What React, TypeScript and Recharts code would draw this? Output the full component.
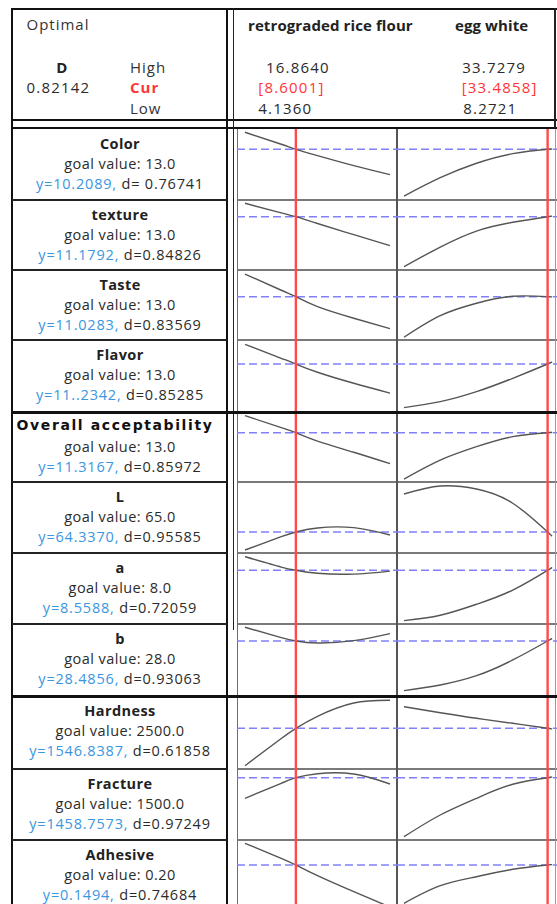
import React from "react";
import { LineChart, Line, XAxis, YAxis, ReferenceLine } from "recharts";

// factor settings
const riceLow = 4.136;
const riceHigh = 16.864;
const riceCur = 8.6001;
const eggLow = 8.2721;
const eggHigh = 33.7279;
const eggCur = 33.4858;
const riceX = [4.136, 7.318, 10.5, 13.682, 16.864];
const eggX = [8.2721, 14.636, 21.0, 27.364, 33.7279];

// responses
const responses = ["Color", "texture", "Taste", "Flavor", "Overall acceptability", "L", "a", "b", "Hardness", "Fracture", "Adhesive"];
const goals = ["13.0", "13.0", "13.0", "13.0", "13.0", "65.0", "8.0", "28.0", "2500.0", "1500.0", "0.20"];
const yLabels = ["y=10.2089", "y=11.1792", "y=11.0283", "y=11..2342", "y=11.3167", "y=64.3370", "y=8.5588", "y=28.4856", "y=1546.8387", "y=1458.7573", "y=0.1494"];
const dLabels = [" d= 0.76741", " d=0.84826", " d=0.83569", " d=0.85285", " d=0.85972", " d=0.95585", " d=0.72059", " d=0.93063", " d=0.61858", " d=0.97249", " d=0.74684"];
const yCur = [10.2089, 11.1792, 11.0283, 11.2342, 11.3167, 64.337, 8.5588, 28.4856, 1546.8387, 1458.7573, 0.1494];

// predicted response along each factor
const riceY = [
  [11.06, 10.46, 9.89, 9.39, 8.94],
  [11.85, 11.37, 10.84, 10.28, 9.73],
  [12.16, 11.35, 10.53, 9.95, 9.43],
  [12.22, 11.52, 10.82, 10.27, 9.78],
  [12.17, 11.57, 10.9, 10.34, 9.77],
  [62.54, 63.87, 64.74, 64.77, 64.04],
  [9.24, 8.72, 8.41, 8.37, 8.52],
  [29.86, 28.82, 28.29, 28.52, 29.22],
  [798.8, 1342.8, 1786.8, 2052.8, 2106.8],
  [1252.8, 1402.8, 1498.8, 1495.8, 1395.8],
  [0.1928, 0.1628, 0.128, 0.096, 0.0654],
];
const eggY = [
  [7.87, 8.79, 9.51, 9.99, 10.21],
  [8.68, 9.66, 10.46, 10.9, 11.185],
  [9.0, 10.08, 10.7, 11.05, 11.03],
  [9.05, 9.35, 9.85, 10.52, 11.27],
  [9.0, 9.95, 10.62, 11.12, 11.32],
  [68.14, 68.94, 68.64, 67.21, 64.21],
  [6.04, 6.31, 6.86, 7.57, 8.6],
  [23.52, 24.09, 25.02, 26.59, 28.57],
  [1978.8, 1858.8, 1746.8, 1646.8, 1542.7],
  [868.8, 1085.8, 1252.8, 1392.8, 1460.0],
  [0.0728, 0.108, 0.126, 0.1408, 0.1497],
];
// y axis range of each row
const yRanges = [
  [7.674, 11.274],
  [8.514, 12.014],
  [8.863, 12.363],
  [8.834, 12.434],
  [8.852, 12.352],
  [62.237, 69.337],
  [5.874, 9.424],
  [22.986, 30.186],
  [732.84, 2192.84],
  [835.76, 1545.76],
  [0.0574, 0.1994],
];

const rowTops = [128, 200, 270, 340, 412, 482, 553, 624, 696, 769, 840, 911];
const FONT = "'Open Sans', sans-serif";
const TXT = "#2b2b2b";
const BLUE = "#3b96e0";
const RED = "#ff3535";

const colW = 160;
const dataW = 145;
const riceDomain = [
  riceLow - (8 * (riceHigh - riceLow)) / dataW,
  riceHigh + (7 * (riceHigh - riceLow)) / dataW,
];
const eggDomain = [
  eggLow - (7 * (eggHigh - eggLow)) / dataW,
  eggHigh + (8 * (eggHigh - eggLow)) / dataW,
];

function buildPoints(xs: number[], ys: number[], cur: number, yc: number) {
  const pts = xs.map((x, i) => ({ x, y: ys[i] }));
  pts.push({ x: cur, y: yc });
  return pts.sort((a, b) => a.x - b.x);
}

function Cell({ left, top, height, data, xDomain, yDomain, cur, yc }: any) {
  return (
    <div style={{ position: "absolute", left, top }}>
      <LineChart width={colW} height={height} data={data} margin={{ top: 0, right: 0, bottom: 0, left: 0 }}>
        <XAxis dataKey="x" type="number" domain={xDomain} hide allowDataOverflow />
        <YAxis type="number" domain={yDomain} hide allowDataOverflow />
        <ReferenceLine y={yc} stroke="#8080fb" strokeWidth={1.6} strokeDasharray="8 4" />
        <Line
          type="natural"
          dataKey="y"
          stroke="#555"
          strokeWidth={1.4}
          dot={false}
          isAnimationActive={false}
        />
        <ReferenceLine x={cur} stroke="#ff4a4a" strokeWidth={2.4} />
      </LineChart>
    </div>
  );
}

function Txt({ x, y, children, style, center }: any) {
  return (
    <div
      style={{
        position: "absolute",
        left: x,
        top: y - 9,
        lineHeight: "18px",
        height: 18,
        whiteSpace: "pre",
        fontFamily: FONT,
        fontSize: 14.5,
        color: TXT,
        transform: center ? "translateX(-50%)" : undefined,
        ...style,
      }}
    >
      {children}
    </div>
  );
}

function Box({ x, y, w, h, c }: any) {
  return <div style={{ position: "absolute", left: x, top: y, width: w, height: h, background: c }} />;
}

const head = { fontSize: 15, letterSpacing: 1, color: "#333" };
const headNum = { fontSize: 15, letterSpacing: 1.2 };

export default function App() {
  const cells: React.ReactNode[] = [];
  const labels: React.ReactNode[] = [];
  responses.forEach((name, i) => {
    const top = rowTops[i];
    const h = rowTops[i + 1] - top;
    cells.push(
      <Cell
        key={"r" + i}
        left={237}
        top={top}
        height={h}
        data={buildPoints(riceX, riceY[i], riceCur, yCur[i])}
        xDomain={riceDomain}
        yDomain={yRanges[i]}
        cur={riceCur}
        yc={yCur[i]}
      />,
      <Cell
        key={"e" + i}
        left={397}
        top={top}
        height={h}
        data={buildPoints(eggX, eggY[i], eggCur, yCur[i])}
        xDomain={eggDomain}
        yDomain={yRanges[i]}
        cur={eggCur}
        yc={yCur[i]}
      />
    );
    const off = i === 0 ? 16 : 14.5;
    const overall = i === 4;
    labels.push(
      <Txt
        key={"t" + i}
        x={overall ? 115 : 120}
        y={top + off - (overall ? 2 : 0)}
        center
        style={
          overall
            ? { fontFamily: "'DejaVu Sans', sans-serif", fontWeight: 700, fontSize: 14, letterSpacing: 1.6, color: "#111" }
            : { fontWeight: 700, letterSpacing: 0.4, color: "#222" }
        }
      >
        {name}
      </Txt>,
      <Txt key={"g" + i} x={120} y={top + off + 20} center style={{ letterSpacing: 0.45 }}>
        {"goal value: " + goals[i]}
      </Txt>,
      <Txt key={"y" + i} x={120} y={top + off + 40} center style={{ letterSpacing: 0.8 }}>
        <span style={{ color: BLUE }}>{yLabels[i] + ","}</span>
        {dLabels[i]}
      </Txt>
    );
  });

  const thin = [1, 2, 3, 5, 6, 7, 9, 10].map((i) => rowTops[i]);
  const thick = [4, 8].map((i) => rowTops[i]);

  return (
    <div style={{ position: "absolute", left: 0, top: 0, width: 557, height: 904, overflow: "hidden", background: "#fff" }}>
      {/* grid under the curves */}
      {thin.map((y) => (
        <Box key={"gs" + y} x={237} y={y - 1} w={320} h={1.5} c="#7a7a7a" />
      ))}
      <Box x={236.5} y={128} w={1.6} h={800} c="#6e6e6e" />
      <Box x={395.5} y={128} w={2.2} h={800} c="#555" />
      <Box x={555} y={128} w={1.4} h={800} c="#9a9a9a" />
      {cells}

      {/* frame */}
      <Box x={11} y={8} w={546} h={2.2} c="#111" />
      <Box x={11} y={119} w={546} h={2.2} c="#111" />
      <Box x={11} y={126.5} w={546} h={2.2} c="#111" />
      <Box x={10.8} y={8} w={2} h={900} c="#111" />
      <Box x={225.8} y={8} w={2} h={900} c="#111" />
      <Box x={232.6} y={8} w={1.8} h={622} c="#222" />
      <Box x={554.2} y={8} w={2} h={120} c="#222" />
      {thin.map((y) => (
        <Box key={"ls" + y} x={12} y={y - 1} w={215} h={1.6} c="#222" />
      ))}
      {thick.map((y) => (
        <Box key={"tk" + y} x={11} y={y - 1.5} w={546} h={3} c="#111" />
      ))}

      {/* header */}
      <Txt x={26.5} y={24} style={head}>Optimal</Txt>
      <Txt x={61.7} y={66.7} center style={{ ...head, fontWeight: 700, letterSpacing: 0, color: "#222" }}>D</Txt>
      <Txt x={26.5} y={87.3} style={headNum}>0.82142</Txt>
      <Txt x={130} y={66.7} style={head}>High</Txt>
      <Txt x={130} y={87.3} style={{ ...head, color: RED, fontWeight: 700 }}>Cur</Txt>
      <Txt x={130} y={108} style={head}>Low</Txt>

      <Txt x={248} y={25} style={{ fontWeight: 700, fontSize: 15, letterSpacing: 0.1, color: "#222" }}>retrograded rice flour</Txt>
      <Txt x={455} y={25} style={{ fontWeight: 700, fontSize: 15, letterSpacing: 0.1, color: "#222" }}>egg white</Txt>
      <Txt x={266} y={66.7} style={headNum}>{riceHigh.toFixed(4)}</Txt>
      <Txt x={258.3} y={87.3} style={{ ...headNum, color: RED }}>{"[" + riceCur.toFixed(4) + "]"}</Txt>
      <Txt x={258.3} y={107.5} style={headNum}>{riceLow.toFixed(4)}</Txt>
      <Txt x={462.3} y={66.7} style={headNum}>{eggHigh.toFixed(4)}</Txt>
      <Txt x={461.7} y={87.3} style={{ ...headNum, color: RED }}>{"[" + eggCur.toFixed(4) + "]"}</Txt>
      <Txt x={463.3} y={107.5} style={headNum}>{eggLow.toFixed(4)}</Txt>

      {labels}
    </div>
  );
}
